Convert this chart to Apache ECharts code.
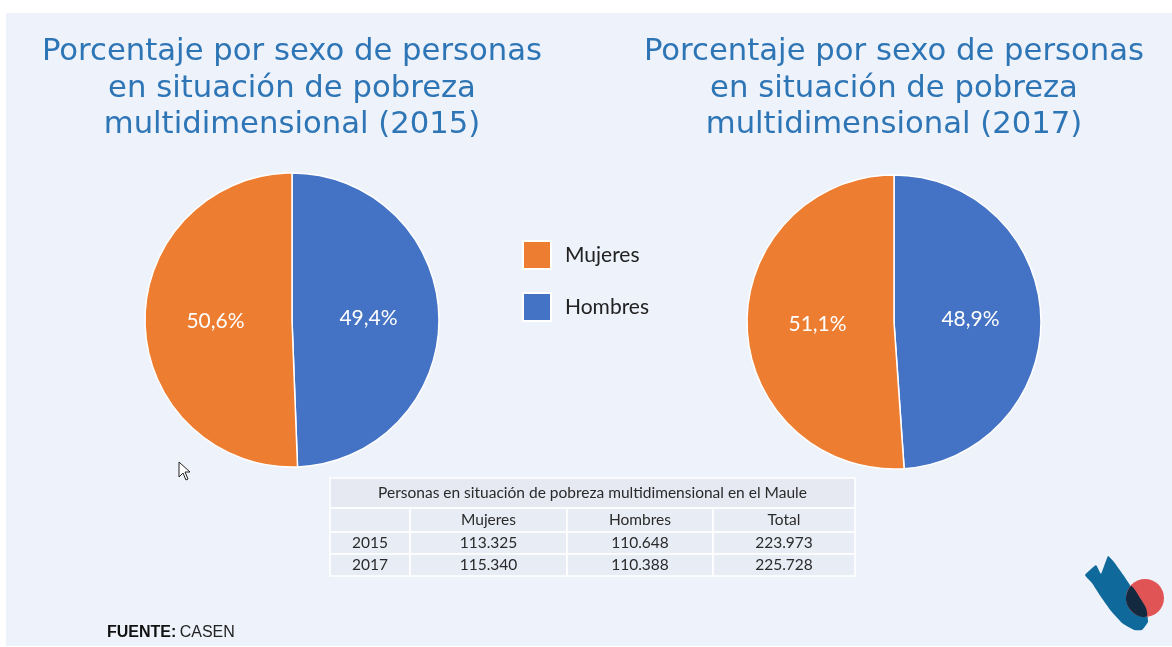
<!DOCTYPE html>
<html>
<head>
<meta charset="utf-8">
<script src="https://cdn.jsdelivr.net/npm/echarts@6/dist/echarts.min.js"></script>
<style>
html,body{margin:0;padding:0;background:#fff;}
#chart{width:1172px;height:647px;}
</style>
</head>
<body>
<div id="chart"></div>
<script>
// ---- data ----
const years = ['2015', '2017'];
const categories = ['Mujeres', 'Hombres'];
const mujeres = [113325, 115340];
const hombres = [110648, 110388];
const totales = [223973, 225728];
const tableTitle = 'Personas en situación de pobreza multidimensional en el Maule';
const tableHeader = ['', 'Mujeres', 'Hombres', 'Total'];
const chartTitles = [
  'Porcentaje por sexo de personas\nen situación de pobreza\nmultidimensional (2015)',
  'Porcentaje por sexo de personas\nen situación de pobreza\nmultidimensional (2017)'
];
const sourceLabel = 'FUENTE:';
const sourceName = 'CASEN';

// ---- styles ----
const COL_M = '#ED7D31';
const COL_H = '#4472C4';
const PANEL = '#EEF2FA';
const TITLE_COL = '#2E75B6';

function fmtThousands(n) {
  return String(n).replace(/\B(?=(\d{3})+(?!\d))/g, '.');
}

const chart = echarts.init(document.getElementById('chart'), null, {renderer: 'canvas'});

const pieCenters = [[292, 320], [894, 322]];
const titleCenters = [292, 894];

const series = years.map((y, i) => ({
  type: 'pie',
  name: y,
  center: pieCenters[i],
  radius: 147,
  startAngle: 90,
  clockwise: true,
  percentPrecision: 1,
  silent: true,
  label: {
    show: true,
    position: 'inner',
    color: '#fff',
    fontSize: 21,
    fontFamily: 'Lato',
    formatter: p => p.percent.toFixed(1).replace('.', ',') + '%'
  },
  labelLine: {show: false},
  itemStyle: {borderColor: '#fff', borderWidth: 1.5},
  data: [
    {name: categories[1], value: hombres[i], itemStyle: {color: COL_H}},
    {name: categories[0], value: mujeres[i], itemStyle: {color: COL_M}}
  ]
}));

// table graphic
const colX = [330, 410, 567, 713, 855];
const rowY = [478, 508, 532, 554, 576];
const tbl = [];
const cellFill = '#E8ECF5';
tbl.push({type: 'rect', shape: {x: colX[0], y: rowY[0], width: colX[4] - colX[0], height: rowY[1] - rowY[0]},
  style: {fill: '#E6E9F1', stroke: '#fff', lineWidth: 1.5}});
tbl.push({type: 'text', x: (colX[0] + colX[4]) / 2, y: (rowY[0] + rowY[1]) / 2,
  style: {text: tableTitle, fill: '#2a2a2a', font: '15.5px Lato', align: 'center', verticalAlign: 'middle'}});
const rows = [tableHeader].concat(years.map((y, i) => [y, fmtThousands(mujeres[i]), fmtThousands(hombres[i]), fmtThousands(totales[i])]));
rows.forEach((r, ri) => {
  r.forEach((c, ci) => {
    tbl.push({type: 'rect', shape: {x: colX[ci], y: rowY[ri + 1], width: colX[ci + 1] - colX[ci], height: rowY[ri + 2] - rowY[ri + 1]},
      style: {fill: cellFill, stroke: '#fff', lineWidth: 1.5}});
    if (c) {
      const cx = ci === 0 ? colX[0] + 40 : (colX[ci] + colX[ci + 1]) / 2;
      tbl.push({type: 'text', x: cx, y: (rowY[ri + 1] + rowY[ri + 2]) / 2,
        style: {text: c, fill: '#2a2a2a', font: '15.5px Lato', align: 'center', verticalAlign: 'middle'}});
    }
  });
});

const graphics = [
  {type: 'rect', z: -10, shape: {x: 6, y: 13, width: 1166, height: 633}, style: {fill: PANEL}},
  ...chartTitles.map((t, i) => ({
    type: 'text', x: titleCenters[i], y: 34,
    style: {text: t, fill: TITLE_COL, font: '30.7px "DejaVu Sans"', align: 'center', verticalAlign: 'top', lineHeight: 36.5}
  })),
  ...tbl,
  {type: 'text', x: 107, y: 633, style: {
    text: '{b|' + sourceLabel + '} {n|' + sourceName + '}', verticalAlign: 'middle',
    rich: {b: {fontWeight: 'bold', fontSize: 16, fontFamily: 'Liberation Sans', fill: '#111'},
           n: {fontSize: 16, fontFamily: 'Liberation Sans', fill: '#222'}}
  }},
  // logo
  {type: 'polygon', shape: {smooth: 0.1, points: [[1085, 575], [1096, 565], [1101, 574], [1108, 556], [1114, 562], [1124, 576], [1132, 588], [1141, 600], [1147, 612], [1148, 622], [1142, 630], [1134, 630], [1122, 623], [1111, 611], [1101, 597], [1092, 583]]},
    style: {fill: '#0F6A9B'}},
  {type: 'circle', shape: {cx: 1145, cy: 598, r: 19}, style: {fill: '#E05456'}},
  {type: 'polygon', shape: {smooth: 0.3, points: [[1131, 586], [1127, 593], [1126, 600], [1129, 608], [1135, 614], [1142, 617], [1147, 616], [1146, 608], [1140, 598], [1135, 590]]},
    style: {fill: '#13293F'}},
  // cursor
  {type: 'polygon', shape: {points: [[179, 462], [179, 477], [183, 473], [186, 480], [188, 479], [185, 472], [190, 472]]},
    style: {fill: '#fff', stroke: '#222', lineWidth: 1}}
];

chart.setOption({
  backgroundColor: '#fff',
  animation: false,
  legend: {
    orient: 'vertical',
    left: 522, top: 240,
    padding: 0,
    icon: 'rect',
    itemWidth: 28, itemHeight: 28,
    itemGap: 22,
    data: categories,
    selectedMode: false,
    textStyle: {fontSize: 21, fontFamily: 'Lato', color: '#222', padding: [0, 0, 0, 9]}
  },
  graphic: graphics,
  series: series
});
</script>
</body>
</html>
